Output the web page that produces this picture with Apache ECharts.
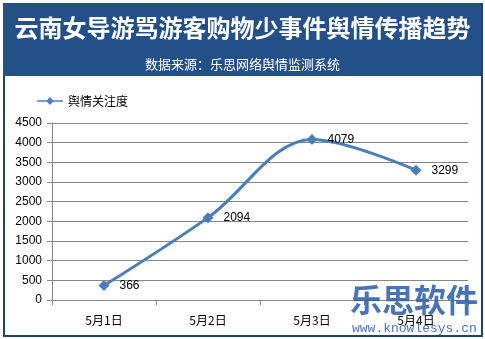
<!DOCTYPE html>
<html><head><meta charset="utf-8">
<script src="https://cdn.jsdelivr.net/npm/echarts@6/dist/echarts.min.js"></script>
<style>html,body{margin:0;padding:0;background:#fff}#c{width:485px;height:339px}</style>
</head><body><div id="c"></div>
<script>
var categories = ['5月1日', '5月2日', '5月3日', '5月4日'];
var values = [366, 2094, 4079, 3299];
var seriesName = '舆情关注度';
var titleText = '云南女导游骂游客购物少事件舆情传播趋势';
var subtitleText = '数据来源：乐思网络舆情监测系统';

var chart = echarts.init(document.getElementById('c'), null, {renderer: 'canvas'});
var font = '"Noto Sans CJK SC", "Liberation Sans", sans-serif';
chart.setOption({
  animation: false,
  backgroundColor: '#ffffff',
  graphic: [
    {type: 'rect', left: 3, top: 3, shape: {width: 478, height: 332}, style: {fill: '#ffffff', stroke: '#1f4272', lineWidth: 2}, z: -10},
    {type: 'rect', left: 3, top: 3, shape: {width: 478, height: 73}, style: {fill: '#245089'}, z: -9},
    {type: 'text', left: 'center', top: 16, style: {text: titleText, fill: '#ffffff', font: 'bold 24px ' + font}},
    {type: 'text', left: 'center', top: 58, style: {text: subtitleText, fill: '#ffffff', font: '13px ' + font}},
    {type: 'text', left: 350, top: 284, style: {text: '乐思软件', fill: 'rgba(40,90,170,0.85)', font: 'bold 32px ' + font}, z: 20},
    {type: 'text', left: 352, top: 322, style: {text: 'www.knowlesys.cn', fill: 'rgba(40,90,170,0.85)', font: '13px "Liberation Mono", monospace'}, z: 20}
  ],
  legend: {
    left: 32, top: 90, itemWidth: 26, itemHeight: 10, itemGap: 4,
    textStyle: {fontFamily: font, fontSize: 12, color: '#000'},
    data: [{name: seriesName, icon: 'path://M0,4.2 L10,4.2 L13,1 L16,4.2 L26,4.2 L26,5.8 L16,5.8 L13,9 L10,5.8 L0,5.8Z'}]
  },
  grid: {left: 52, right: 17, top: 123, bottom: 39},
  xAxis: {
    type: 'category', data: categories, boundaryGap: true,
    axisLine: {lineStyle: {color: '#868686'}},
    axisTick: {show: true, length: 5, lineStyle: {color: '#868686'}},
    axisLabel: {color: '#000', fontSize: 12, fontFamily: font, margin: 14}
  },
  yAxis: {
    type: 'value', min: 0, max: 4500, interval: 500,
    axisLine: {show: true, lineStyle: {color: '#868686'}},
    axisTick: {show: true, length: 5, lineStyle: {color: '#868686'}},
    splitLine: {lineStyle: {color: '#868686'}},
    axisLabel: {color: '#000', fontSize: 12, fontFamily: '"Liberation Sans", sans-serif', margin: 10, formatter: function (v) { return String(v); }}
  },
  series: [{
    name: seriesName, type: 'line', data: values, smooth: 0.35,
    symbol: 'diamond', symbolSize: 11,
    lineStyle: {color: '#4a7ebb', width: 3},
    itemStyle: {color: '#4a7ebb'},
    label: {show: true, position: 'right', distance: 10, color: '#000', fontSize: 12, fontFamily: '"Liberation Sans", sans-serif'}
  }]
});
</script></body></html>
